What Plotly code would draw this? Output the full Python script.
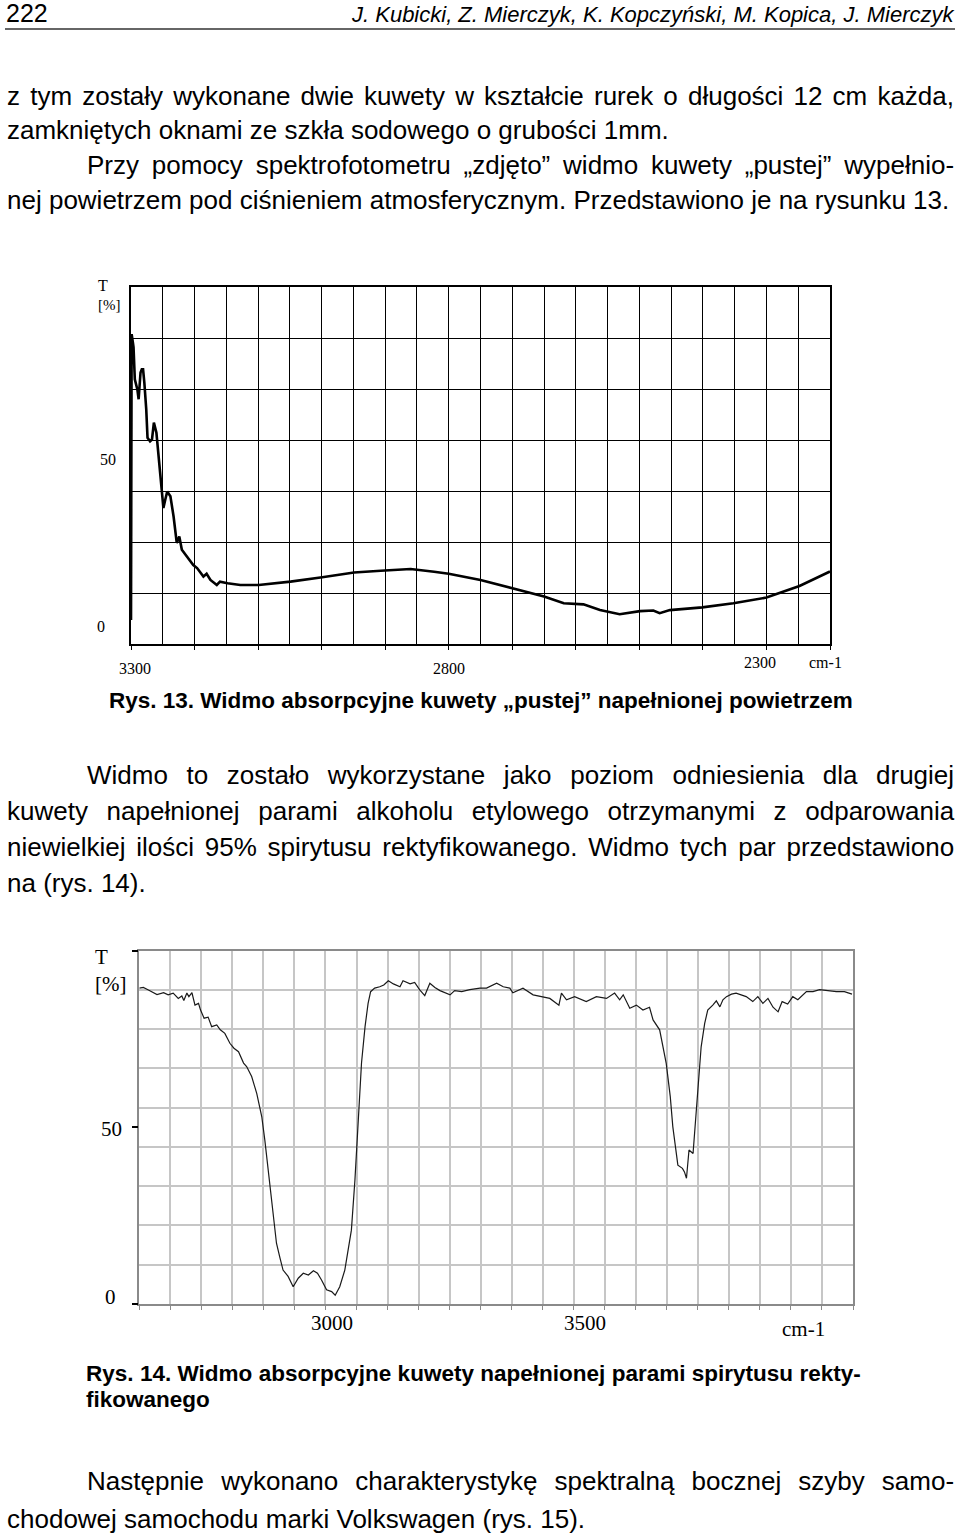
import plotly.graph_objects as go

W, H = 960, 1534

# ---------------- data: Rys. 13 (empty cuvette, air) ----------------
rys13_wavenumber = [3300, 3299, 3297, 3296, 3294, 3290, 3288, 3285, 3283, 3281, 3279, 3276,
                    3274, 3270, 3267, 3264, 3260, 3255, 3252, 3249, 3246, 3243, 3238, 3233,
                    3228, 3224, 3220, 3212, 3202, 3196, 3186, 3181, 3175, 3165, 3160, 3148,
                    3128, 3099, 3049, 2999, 2949, 2907, 2860, 2823, 2800, 2750, 2700, 2650,
                    2619, 2588, 2562, 2531, 2499, 2478, 2468, 2452, 2401, 2352, 2300, 2248, 2200]
rys13_T = [1.8, 86.1, 83.6, 82.2, 72.8, 69.8, 66.9, 74.8, 75.7, 75.7, 71.8, 63.9,
           55.5, 54.5, 55.0, 60.0, 57.0, 47.1, 41.2, 34.8, 37.3, 39.7, 38.3, 32.3,
           24.5, 26.4, 22.5, 20.5, 18.0, 17.1, 14.6, 15.4, 13.6, 12.1, 13.1, 12.6,
           12.1, 12.1, 13.1, 14.4, 15.8, 16.3, 16.8, 16.0, 15.4, 13.6, 11.2, 8.7,
           6.7, 6.4, 4.7, 3.5, 4.4, 4.6, 3.8, 4.7, 5.5, 6.7, 8.4, 11.8, 16.1]

# ---------------- data: Rys. 14 (ethanol vapour) ----------------
rys14_wavenumber = [2620, 2628, 2638, 2655, 2668, 2677, 2687, 2697, 2704, 2708, 2714, 2718,
                    2724, 2730, 2737, 2741, 2748, 2756, 2763, 2773, 2780, 2789, 2799, 2807,
                    2816, 2826, 2832, 2842, 2852, 2862, 2868, 2878, 2885, 2891, 2898, 2904,
                    2914, 2924, 2934, 2944, 2954, 2964, 2972, 2980, 2990, 3000, 3007, 3016,
                    3026, 3033, 3039, 3046, 3053, 3059, 3066, 3072, 3077, 3085, 3095, 3103,
                    3112, 3122, 3135, 3141, 3155, 3164, 3174, 3184, 3194, 3204, 3214, 3224,
                    3234, 3243, 3257, 3273, 3293, 3306, 3326, 3339, 3352, 3358, 3378, 3398,
                    3415, 3431, 3449, 3454, 3464, 3480, 3503, 3523, 3543, 3559, 3569, 3576,
                    3589, 3602, 3615, 3628, 3635, 3648, 3661, 3669, 3674, 3684, 3693, 3697,
                    3701, 3706, 3714, 3720, 3726, 3730, 3737, 3743, 3753, 3760, 3767, 3773,
                    3780, 3790, 3799, 3819, 3832, 3842, 3852, 3862, 3872, 3882, 3890, 3901,
                    3911, 3921, 3938, 3951, 3964, 3980, 3997, 4013, 4028]
rys14_T = [89.4, 89.6, 88.9, 87.6, 88.1, 87.5, 88.0, 86.5, 87.2, 85.9, 88.0, 87.0,
           88.1, 84.6, 85.1, 83.2, 80.9, 81.2, 78.5, 79.0, 77.6, 76.6, 73.8, 72.4,
           71.4, 68.2, 67.2, 64.4, 59.6, 53.0, 46.4, 34.2, 24.7, 17.2, 13.0, 9.6,
           7.8, 4.9, 7.3, 8.7, 8.2, 9.4, 8.7, 6.8, 4.0, 3.5, 2.5, 4.9,
           9.6, 15.3, 20.9, 35.1, 51.1, 68.2, 78.5, 85.1, 88.4, 89.4, 89.8, 90.3,
           91.5, 90.6, 89.8, 91.5, 90.6, 91.0, 88.9, 87.3, 90.8, 89.6, 88.7, 88.0,
           87.5, 88.7, 88.4, 89.0, 89.4, 89.4, 90.8, 89.8, 89.4, 88.1, 89.4, 87.5,
           87.0, 86.5, 84.6, 88.0, 86.1, 87.0, 85.6, 87.0, 86.5, 88.0, 86.1, 87.5,
           83.7, 84.6, 83.2, 84.0, 80.4, 77.6, 68.1, 58.7, 50.2, 39.3, 38.4, 37.4,
           35.6, 43.6, 42.6, 53.0, 63.4, 72.8, 79.4, 83.2, 84.6, 85.8, 84.1, 86.1,
           87.0, 87.7, 88.0, 87.0, 85.6, 87.0, 85.1, 86.5, 84.0, 82.7, 85.6, 84.9,
           87.0, 86.1, 88.4, 88.4, 89.0, 88.7, 88.4, 88.4, 87.7]

# axis labels
rys13_xlabels = [3300, 2800, 2300]
rys13_ylabels = [50, 0]
rys14_xlabels = [3000, 3500]
rys14_ylabels = [50, 0]
unit_x = "cm-1"
unit_y = ["T", "[%]"]

# page text
header_page = "222"
header_authors = "J. Kubicki, Z. Mierczyk, K. Kopczyński, M. Kopica, J. Mierczyk"
para1 = ["z tym zostały wykonane dwie kuwety w kształcie rurek o długości 12 cm każda,",
         "zamkniętych oknami ze szkła sodowego o grubości 1mm.",
         "Przy pomocy spektrofotometru „zdjęto” widmo kuwety „pustej” wypełnio-",
         "nej powietrzem pod ciśnieniem atmosferycznym. Przedstawiono je na rysunku 13."]
caption13 = "Rys. 13. Widmo absorpcyjne kuwety „pustej” napełnionej powietrzem"
para2 = ["Widmo to zostało wykorzystane jako poziom odniesienia dla drugiej",
         "kuwety napełnionej parami alkoholu etylowego otrzymanymi z odparowania",
         "niewielkiej ilości 95% spirytusu rektyfikowanego. Widmo tych par przedstawiono",
         "na (rys. 14)."]
caption14 = ["Rys. 14. Widmo absorpcyjne kuwety napełnionej parami spirytusu rekty-",
             "fikowanego"]
para3 = ["Następnie wykonano charakterystykę spektralną bocznej szyby samo-",
         "chodowej samochodu marki Volkswagen (rys. 15)."]

# ---------------- helpers ----------------
def px(x):
    return x / W


def py(y):
    return 1 - y / H


REG_W = {}
for w, chars in [(556, "abdeghnopqu0123456789ęńąó"), (500, "cksvxyzśżćźJ"),
                 (278, "ft ,."), (222, "ijlł"), (833, "mM"), (333, "r„”-()"),
                 (722, "wNR"), (667, "PVK"), (944, "W"), (611, "Z"), (889, "%")]:
    for c in chars:
        REG_W[c] = w
BOLD_W = {}
for w, chars in [(556, "aceksyvx0123456789ęąś"), (611, "bdghnopquń"), (333, "ft-"),
                 (278, "ijlł .,"), (889, "m"), (389, "r"), (778, "w"),
                 (500, "z„”ż"), (722, "R"), (944, "W")]:
    for c in chars:
        BOLD_W[c] = w


def natural_width(text, size, bold=False):
    table = BOLD_W if bold else REG_W
    return sum(table.get(c, 556) for c in text) * size / 1000.0


SANS = "Liberation Sans, Arial, sans-serif"
SERIF = "Liberation Serif, Times New Roman, serif"

annotations = []


def add_text(x, y, text, size, family=SANS, xanchor="left", xref="paper", yref="paper",
             xshift=0, yshift=0):
    annotations.append(dict(
        x=px(x) if xref == "paper" else x,
        y=py(y) if yref == "paper" else y,
        xref=xref, yref=yref, text=text, showarrow=False,
        xanchor=xanchor, yanchor="middle", xshift=xshift, yshift=yshift,
        font=dict(family=family, size=size, color="black"), borderpad=0))


def add_line(text, y, x_left, x_right=None, size=26, bold=False):
    body = text
    if x_right is not None:
        n_sp = text.count(" ")
        ws = (x_right - x_left - natural_width(text, size, bold)) / max(n_sp, 1)
        body = '<span style="word-spacing:%.2fpx">%s</span>' % (ws, text)
    if bold:
        body = "<b>" + body + "</b>"
    add_text(x_left, y, body, size)


BODY = 26
LEFT, INDENT, RIGHT = 6, 86, 953

# header
add_text(5, 13, header_page, 25)
add_text(955, 14, "<i>" + header_authors + "</i>", 22, xanchor="right")

# paragraph 1
add_line(para1[0], 96, LEFT, RIGHT, BODY)
add_line(para1[1], 130, LEFT, None, BODY)
add_line(para1[2], 165, INDENT, RIGHT, BODY)
add_line(para1[3], 200, LEFT, None, BODY)

# caption 13 (centered)
cw = natural_width(caption13, 22.5, True)
add_line(caption13, 701, 480 - cw / 2, None, 22.5, True)

# paragraph 2
add_line(para2[0], 775, INDENT, RIGHT, BODY)
add_line(para2[1], 811, LEFT, RIGHT, BODY)
add_line(para2[2], 847, LEFT, RIGHT, BODY)
add_line(para2[3], 883, LEFT, None, BODY)

# caption 14
add_line(caption14[0], 1373, 85, 860, 22.5, True)
add_line(caption14[1], 1399, 85, None, 22.5, True)

# paragraph 3
add_line(para3[0], 1481, INDENT, RIGHT, BODY)
add_line(para3[1], 1519, LEFT, None, BODY)

# ---------------- chart axis labels ----------------
# Rys. 13
add_text(102.7, 285, unit_y[0], 16, SERIF, "center")
add_text(109, 305, unit_y[1], 15, SERIF, "center")
add_text(117, rys13_ylabels[0], str(rys13_ylabels[0]), 16, SERIF, "right", yref="y", yshift=-3)
add_text(106, rys13_ylabels[1], str(rys13_ylabels[1]), 16, SERIF, "right", yref="y")
for v, dx, yy in zip(rys13_xlabels, [4, 0, -6], [668, 668, 663]):
    add_text(v, yy, str(v), 16, SERIF, "center", xref="x", xshift=dx)
add_text(825, 662, unit_x, 16, SERIF, "center")

# Rys. 14
add_text(101.7, 957, unit_y[0], 21, SERIF, "center")
add_text(110.7, 984, unit_y[1], 21, SERIF, "center")
add_text(123, rys14_ylabels[0], str(rys14_ylabels[0]), 21, SERIF, "right", yref="y2", yshift=-2)
add_text(117, rys14_ylabels[1], str(rys14_ylabels[1]), 21, SERIF, "right", yref="y2", yshift=7)
for v in rys14_xlabels:
    add_text(v, 1323, str(v), 21, SERIF, "center", xref="x2")
add_text(803, 1329, unit_x, 21, SERIF, "center")

# ---------------- figure ----------------
fig = go.Figure()
fig.add_trace(go.Scatter(x=rys13_wavenumber, y=rys13_T, mode="lines",
                         line=dict(color="black", width=2.6), xaxis="x", yaxis="y",
                         hoverinfo="skip"))
fig.add_trace(go.Scatter(x=rys14_wavenumber, y=rys14_T, mode="lines",
                         line=dict(color="#1a1a1a", width=1.2), xaxis="x2", yaxis="y2",
                         hoverinfo="skip"))

Y1_LO = -5.3
X2_LO, X2_HI = 2620, 4030

fig.update_layout(
    width=W, height=H, margin=dict(l=0, r=0, t=0, b=0),
    paper_bgcolor="white", plot_bgcolor="white", showlegend=False,
    annotations=annotations,
    shapes=[dict(type="line", xref="paper", yref="paper", x0=px(5), x1=px(955),
                 y0=py(29), y1=py(29), line=dict(color="#333333", width=1.5))],
    xaxis=dict(domain=[px(131), px(830)], range=[3300, 2200], anchor="y",
               tick0=2200, dtick=100, ticks="outside", ticklen=4, tickcolor="black",
               tickwidth=1.3, showticklabels=False,
               showgrid=True, gridcolor="black", gridwidth=1.3,
               minor=dict(tick0=2200, dtick=50, showgrid=True, gridcolor="black",
                          gridwidth=1.3, ticks=""),
               showline=True, linecolor="black", linewidth=1.8, mirror=True,
               zeroline=False, fixedrange=True),
    yaxis=dict(domain=[py(644), py(287)], range=[Y1_LO, 100], anchor="x",
               tick0=Y1_LO, dtick=(100 - Y1_LO) / 7, ticks="", showticklabels=False,
               showgrid=True, gridcolor="black", gridwidth=1.3,
               showline=True, linecolor="black", linewidth=1.8, mirror=True,
               zeroline=False, fixedrange=True),
    xaxis2=dict(domain=[px(139.3), px(853)], range=[X2_LO, X2_HI], anchor="y2",
                tick0=X2_LO, dtick=(X2_HI - X2_LO) / 23, ticks="outside", ticklen=4,
                tickcolor="#8a8a8a", tickwidth=1.2, showticklabels=False,
                showgrid=True, gridcolor="#c6c6c6", gridwidth=1.5,
                showline=True, linecolor="#8a8a8a", linewidth=1.5, mirror=True,
                zeroline=False, fixedrange=True),
    yaxis2=dict(domain=[py(1304), py(950.7)], range=[0, 100], anchor="x2",
                tickvals=[0, 50, 100], ticks="outside", ticklen=6, tickcolor="black",
                tickwidth=1.5, showticklabels=False, showgrid=False,
                minor=dict(tick0=0, dtick=100 / 9, showgrid=True, gridcolor="#c6c6c6",
                           gridwidth=1.5, ticks=""),
                showline=True, linecolor="#8a8a8a", linewidth=1.5, mirror=True,
                zeroline=False, fixedrange=True),
)

fig.write_html("out.html", config={"displayModeBar": False},
               post_script="document.body.style.margin='0';document.body.style.overflow='hidden';")
